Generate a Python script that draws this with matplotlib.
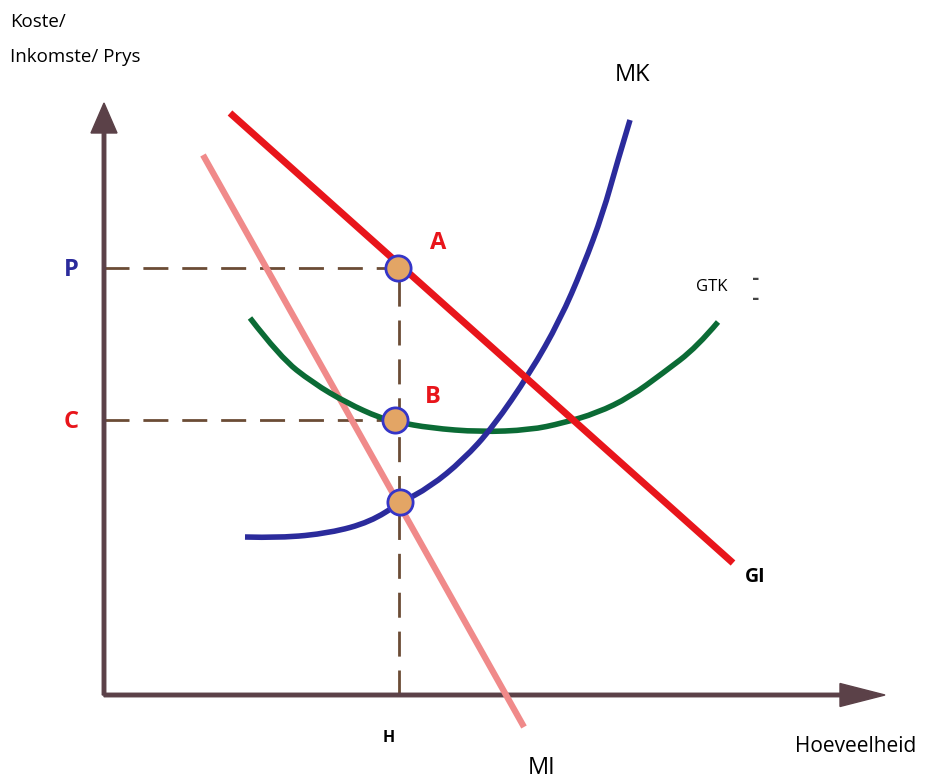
import matplotlib.pyplot as plt
from matplotlib.path import Path
from matplotlib.patches import PathPatch

# data units: pixels measured from the origin of the axes
mk_x = [141, 176, 226, 266, 296, 326, 359, 389, 426, 456, 479, 499, 513, 526]
mk_y = [158, 157, 162, 173, 192, 208, 235, 268, 322, 375, 428, 482, 532, 575]

gtk_x = [146, 176, 209, 243, 276, 293, 326, 376, 426, 459, 493, 526, 559, 593, 614]
gtk_y = [377, 338, 312, 292, 277, 273, 267, 263, 265, 272, 282, 298, 322, 348, 373]

gi_x = [126, 629]
gi_y = [582, 132]

mi_x = [99, 420]
mi_y = [540, -32]

q_h = 295
p_level = 427
c_level = 275
dots_x = [294, 291, 296]
dots_y = [427, 275, 193]


def smooth_curve(ax, xs, ys, **kw):
    # quadratic bezier through midpoints, read points act as controls
    verts = [(xs[0], ys[0])]
    codes = [Path.MOVETO]
    for i in range(1, len(xs) - 1):
        mx = (xs[i] + xs[i + 1]) / 2
        my = (ys[i] + ys[i + 1]) / 2
        if i == len(xs) - 2:
            mx, my = xs[-1], ys[-1]
        verts += [(xs[i], ys[i]), (mx, my)]
        codes += [Path.CURVE3, Path.CURVE3]
    ax.add_patch(PathPatch(Path(verts, codes), fill=False, **kw))


fig = plt.figure(figsize=(9.28, 7.79), dpi=100)
ax = fig.add_axes([0, 0, 1, 1])
ax.set_xlim(-104, 824)
ax.set_ylim(-84, 695)
ax.axis("off")

axis_col = "#5b4148"
dash_col = "#6b4c35"

# axes with arrows
ax.arrow(0, 0, 781, 0, width=3.5, head_width=23, head_length=45,
         length_includes_head=True, color=axis_col, zorder=2)
ax.arrow(0, 0, 0, 592, width=3.5, head_width=26, head_length=30,
         length_includes_head=True, color=axis_col, zorder=2)

# dashed guides
ax.plot([0, q_h], [p_level, p_level], color=dash_col, lw=2, dashes=(9, 5), zorder=1)
ax.plot([0, q_h], [c_level, c_level], color=dash_col, lw=2, dashes=(9, 5), zorder=1)
ax.plot([q_h, q_h], [0, p_level], color=dash_col, lw=2, dashes=(9, 5), zorder=1)

# curves
ax.plot(mi_x, mi_y, color="#f08a8a", lw=4.5, solid_capstyle="butt", zorder=3)
smooth_curve(ax, gtk_x, gtk_y, edgecolor="#0b6b35", lw=4, capstyle="butt", zorder=3)
smooth_curve(ax, mk_x, mk_y, edgecolor="#2b2b9c", lw=4, capstyle="butt", zorder=4)
ax.plot(gi_x, gi_y, color="#e8151b", lw=5, solid_capstyle="butt", zorder=4)

ax.scatter(dots_x, dots_y, s=330, color="#e3a565", edgecolor="#3535c8",
           linewidth=2, zorder=5)

font = "Open Sans"
ax.text(-94, 673, "Koste/", fontsize=13.5, family=font, ha="left", va="center")
ax.text(-94, 638, "Inkomste/ Prys", fontsize=13.5, family=font, ha="left", va="center")
ax.text(529, 620, "MK", fontsize=17, family=font, ha="center", va="center")
ax.text(608, 408, "GTK", fontsize=12, family=font, ha="center", va="center")
ax.text(652, 416, "-", fontsize=13, fontweight="bold", color="#444444",
        ha="center", va="center")
ax.text(652, 396, "-", fontsize=13, fontweight="bold", color="#444444",
        ha="center", va="center")
ax.text(334, 452, "A", fontsize=17, family=font, fontweight="bold",
        color="#e8151b", ha="center", va="center")
ax.text(329, 298, "B", fontsize=17, family=font, fontweight="bold",
        color="#e8151b", ha="center", va="center")
ax.text(-33, 425, "P", fontsize=17, family=font, fontweight="bold",
        color="#2b2b9c", ha="center", va="center")
ax.text(-33, 273, "C", fontsize=17, family=font, fontweight="bold",
        color="#e8151b", ha="center", va="center")
ax.text(651, 118, "GI", fontsize=14, family=font, fontweight="bold",
        ha="center", va="center")
ax.text(285, -43, "H", fontsize=11.5, family=font, fontweight="bold",
        ha="center", va="center")
ax.text(438, -73, "MI", fontsize=17, family=font, ha="center", va="center")
ax.text(752, -51, "Hoeveelheid", fontsize=15, family=font, ha="center", va="center")

fig.savefig("out.png", dpi=100)
